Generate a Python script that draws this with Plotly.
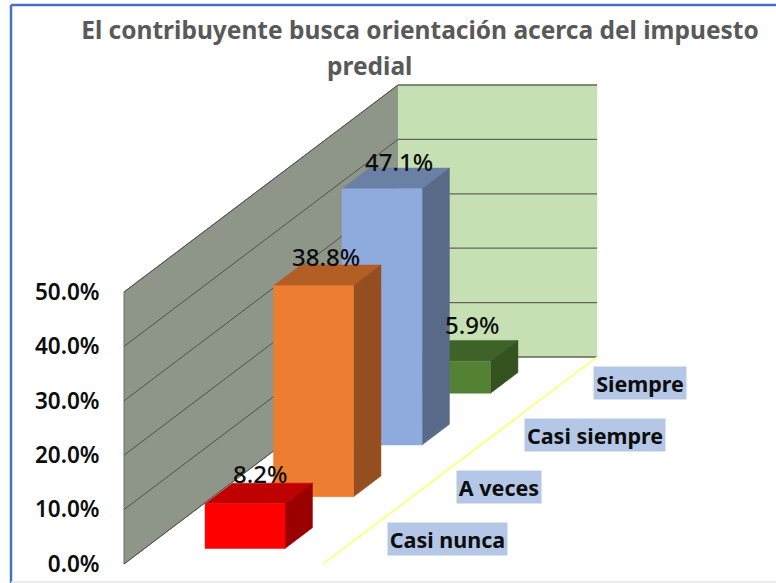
import plotly.graph_objects as go

categories = ["Casi nunca", "A veces", "Casi siempre", "Siempre"]
values = [8.2, 38.8, 47.1, 5.9]
value_labels = ["8.2%", "38.8%", "47.1%", "5.9%"]
tick_values = [0, 10, 20, 30, 40, 50]
tick_labels = ["0.0%", "10.0%", "20.0%", "30.0%", "40.0%", "50.0%"]
title_line1 = "El contribuyente busca orientación acerca del impuesto"
title_line2 = "predial"

front_colors = ["#ff0000", "#ed7d31", "#8faadc", "#548235"]
top_colors = ["#bf0000", "#b25e25", "#6b80a5", "#3f6228"]
side_colors = ["#9b0000", "#944e1f", "#596a89", "#345120"]

W, H = 776, 583
X0, Y0 = 124, 564          # pixel of the front-bottom wall corner
PX_PER_PCT = 272 / 50
DEPTH_X, DEPTH_Y = 274, 207
BACK_W = 199
MAX_V = 50
BAR_W, BAR_D = 0.402, 0.1
FONT = "Noto Sans"


def proj(u, v, d):
    """oblique projection: u across, v value (%), d depth (0 front .. 1 back)"""
    return X0 + u * BACK_W + d * DEPTH_X, v + d * DEPTH_Y / PX_PER_PCT


def poly(pts, fill, line_color=None, width=0):
    xy = [proj(*p) for p in pts]
    xs = [a for a, _ in xy] + [xy[0][0]]
    ys = [b for _, b in xy] + [xy[0][1]]
    return go.Scatter(x=xs, y=ys, mode="lines", fill="toself", fillcolor=fill,
                      line=dict(color=line_color or fill, width=width or 0.5),
                      hoverinfo="skip", showlegend=False)


def seg(a, b, color, width=1):
    pa, pb = proj(*a), proj(*b)
    return go.Scatter(x=[pa[0], pb[0]], y=[pa[1], pb[1]], mode="lines",
                      line=dict(color=color, width=width),
                      hoverinfo="skip", showlegend=False)


fig = go.Figure()
# walls
fig.add_trace(poly([(0, 0, 0), (0, 0, 1), (0, MAX_V, 1), (0, MAX_V, 0)], "#8e9689", "#6a6f65", 1))
fig.add_trace(poly([(0, 0, 1), (1, 0, 1), (1, MAX_V, 1), (0, MAX_V, 1)], "#c6e0b4"))
for t in tick_values:
    fig.add_trace(seg((0, t, 0), (0, t, 1), "#4f534b", 1))
    fig.add_trace(seg((0, t, 1), (1, t, 1), "#5f6659", 1.3))
# floor edge
fig.add_trace(seg((1, 0, 0), (1, 0, 1), "#ffff66", 1.5))

# bars, back to front
annots = []
nudge_x = [1, -1, 3, 8]
nudge_y = [20, 19, 17, 26]
for i in reversed(range(len(values))):
    v = values[i]
    d0 = (i + 0.5) / len(values) - BAR_D / 2
    d1 = d0 + BAR_D
    u0, u1 = 0.505 - BAR_W / 2, 0.505 + BAR_W / 2
    fig.add_trace(poly([(u0, v, d0), (u1, v, d0), (u1, v, d1), (u0, v, d1)], top_colors[i]))
    fig.add_trace(poly([(u1, 0, d0), (u1, 0, d1), (u1, v, d1), (u1, v, d0)], side_colors[i]))
    fig.add_trace(poly([(u0, 0, d0), (u1, 0, d0), (u1, v, d0), (u0, v, d0)], front_colors[i]))

for i, v in enumerate(values):
    d = (i + 0.5) / len(values)
    x, y = proj(0.505, v, d)
    annots.append(dict(x=x, y=y, xref="x", yref="y", text=value_labels[i], showarrow=False,
                       xshift=nudge_x[i], yshift=nudge_y[i], yanchor="middle",
                       font=dict(family=FONT, size=24, color="#0d0d0d", weight=500)))

# category labels along the floor
label_w = [119, 84, 140, 92]
label_h = 32
for i, c in enumerate(categories):
    x, y = proj(1.205, 1.45, i / len(categories) + 0.085)
    annots.append(dict(x=x, y=y, xref="x", yref="y", text="<b>%s</b>" % c, showarrow=False,
                       xanchor="left", yanchor="middle", width=label_w[i], height=label_h,
                       align="center", valign="middle", bgcolor="#b4c7e7", borderpad=0,
                       font=dict(family=FONT, size=21.5, color="#0d0d0d")))

annots.append(dict(x=369 / W, y=1 - 66 / H, xref="paper", yref="paper", text="<b>%s</b>" % title_line2,
                   showarrow=False, yanchor="middle", font=dict(family=FONT, size=24.5, color="#595959")))

fig.update_layout(
    width=W, height=H,
    margin=dict(l=0, r=0, t=0, b=0),
    paper_bgcolor="white", plot_bgcolor="white",
    showlegend=False,
    title=dict(text="<b>%s</b>" % title_line1, x=420 / W, xanchor="center", xref="paper",
               y=1 - 30 / H, yanchor="middle", yref="paper",
               font=dict(family=FONT, size=24.5, color="#595959")),
    xaxis=dict(range=[0, W], visible=False, fixedrange=True),
    yaxis=dict(range=[-(H - Y0) / PX_PER_PCT, Y0 / PX_PER_PCT],
               anchor="free", position=X0 / W, tickmode="array", tickvals=tick_values,
               ticktext=tick_labels, showgrid=False, zeroline=False, showline=False,
               ticks="outside", ticklen=20, tickcolor="rgba(0,0,0,0)", fixedrange=True,
               tickfont=dict(family=FONT, size=22.5, color="#0d0d0d", weight=600)),
    annotations=annots,
    shapes=[
        dict(type="line", xref="paper", yref="paper", x0=11 / W, x1=1, y0=1 - 5 / H, y1=1 - 5 / H,
             line=dict(color="#4472c4", width=2.5)),
        dict(type="line", xref="paper", yref="paper", x0=11 / W, x1=11 / W, y0=0, y1=1 - 5 / H,
             line=dict(color="#4472c4", width=2.5)),
        dict(type="line", xref="paper", yref="paper", x0=11 / W, x1=1, y0=1 / H, y1=1 / H,
             line=dict(color="#e6e6e6", width=1.5)),
    ],
)

fig.write_html("out.html", config={"displayModeBar": False},
               post_script="document.body.style.margin='0';")
